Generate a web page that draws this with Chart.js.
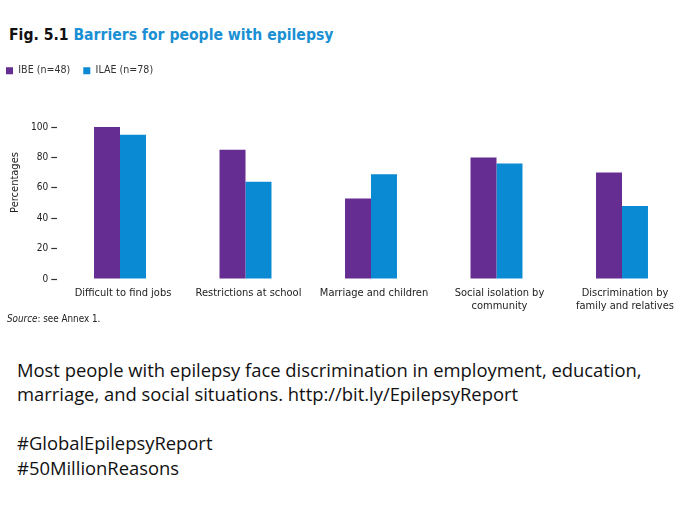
<!DOCTYPE html>
<html>

<head>
  <title>Barriers for people with epilepsy</title>
  <script src="https://cdn.jsdelivr.net/npm/chart.js"></script>
  <style>
    body {
      margin: 0;
      width: 680px;
      height: 521px;
      overflow: hidden;
      position: relative;
      background: #fff;
    }

    #title {
      position: absolute;
      left: 9px;
      top: 27.5px;
      font-family: 'DejaVu Sans Condensed', sans-serif;
      font-weight: bold;
      font-size: 15.6px;
      line-height: 15.6px;
      white-space: nowrap;
      color: #111;
    }

    #title span {
      color: #1a8fd3;
    }

    #chartContainer {
      position: absolute;
      left: -7px;
      top: 50px;
      width: 720px;
      height: 290px;
    }

    #source {
      position: absolute;
      left: 7px;
      top: 314px;
      font-family: 'DejaVu Sans Condensed', sans-serif;
      font-size: 9.8px;
      line-height: 10px;
      color: #222;
    }

    #caption {
      position: absolute;
      left: 17px;
      top: 357.6px;
      font-family: 'Open Sans', sans-serif;
      font-size: 18.4px;
      line-height: 24.6px;
      white-space: nowrap;
      color: #111;
    }
  </style>
</head>

<body>
  <div id="title">Fig. 5.1 <span>Barriers for people with epilepsy</span></div>
  <div id="chartContainer">
    <canvas id="myChart"></canvas>
  </div>
  <div id="source"><i>Source</i>: see Annex 1.</div>
  <div id="caption">Most people with epilepsy face discrimination in employment, education,<br>marriage, and social situations. http://bit.ly/EpilepsyReport<br><br>#GlobalEpilepsyReport<br>#50MillionReasons</div>

  <script>
    const categories = [
      'Difficult to find jobs',
      'Restrictions at school',
      'Marriage and children',
      ['Social isolation by', 'community'],
      ['Discrimination by', 'family and relatives']
    ];
    const ibeValues = [100, 85, 53, 80, 70];
    const ilaeValues = [95, 64, 69, 76, 48];
    const yTicks = [0, 20, 40, 60, 80, 100];

    const chartFont = "'DejaVu Sans Condensed', sans-serif";

    const ctx = document.getElementById('myChart').getContext('2d');
    new Chart(ctx, {
      type: 'bar',
      data: {
        labels: categories,
        datasets: [
          {
            label: 'IBE (n=48)',
            data: ibeValues,
            backgroundColor: '#652d91',
            barPercentage: 1.0,
            categoryPercentage: 0.414
          },
          {
            label: 'ILAE (n=78)',
            data: ilaeValues,
            backgroundColor: '#0a8ad2',
            barPercentage: 1.0,
            categoryPercentage: 0.414
          }
        ]
      },
      options: {
        responsive: true,
        maintainAspectRatio: false,
        animation: false,
        layout: {
          padding: { top: 2.4, left: 0, right: 28.25, bottom: 21 }
        },
        scales: {
          x: {
            grid: { display: false, drawTicks: false },
            border: { display: false },
            ticks: {
              color: '#222',
              font: { family: chartFont, size: 11, lineHeight: 1.14 },
              padding: 8,
              labelOffset: 3,
              autoSkip: false,
              maxRotation: 0
            },
            afterFit: (scale) => { scale.height = 40; }
          },
          y: {
            min: 0,
            // extra room above 100 keeps the axis title where the original puts it
            max: 127,
            grid: {
              drawOnChartArea: false,
              tickLength: 6,
              tickColor: '#333',
              tickWidth: 1.2
            },
            border: { display: false },
            ticks: {
              stepSize: 20,
              color: '#222',
              padding: 3,
              font: { family: chartFont, size: 10 }
            },
            afterBuildTicks: (scale) => {
              scale.ticks = scale.ticks.filter(t => yTicks.includes(t.value));
            },
            title: {
              display: true,
              text: 'Percentages',
              color: '#222',
              font: { family: chartFont, size: 11, lineHeight: 1.0 },
              padding: { top: 17, bottom: 0 }
            },
            afterFit: (scale) => { scale.width = 64.25; }
          }
        },
        plugins: {
          legend: {
            position: 'top',
            align: 'start',
            labels: {
              boxWidth: 7,
              boxHeight: 7,
              padding: 13,
              color: '#333',
              font: { family: chartFont, size: 10.6 }
            }
          },
          tooltip: { enabled: false }
        }
      }
    });
  </script>
</body>

</html>
